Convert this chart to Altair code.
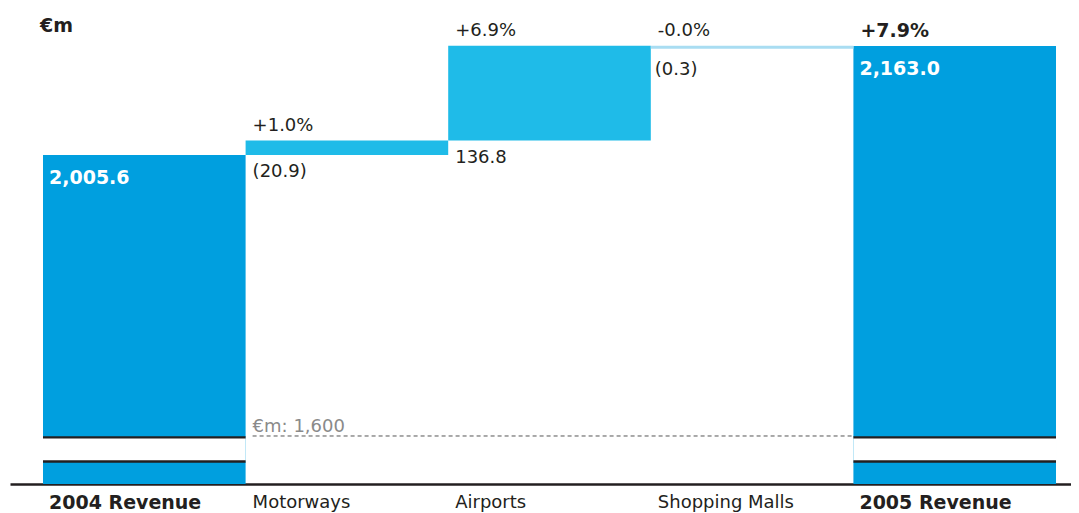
import altair as alt
import pandas as pd

# ---------------- data ----------------
categories = ["2004 Revenue", "Motorways", "Airports", "Shopping Malls", "2005 Revenue"]
changes = [2005.6, 20.9, 136.8, -0.3, 2163.0]
kinds = ["total", "increase", "increase", "decrease", "total"]
value_labels = ["2,005.6", "(20.9)", "136.8", "(0.3)", "2,163.0"]
pct_labels = ["", "+1.0%", "+6.9%", "-0.0%", "+7.9%"]

unit_label = "€m"
reference_value = 1600
reference_label = "€m: 1,600"

# broken value axis (€m)
axis_floor = 1530.7
axis_ceiling = 2215.0
break_top = 1598.1
break_bottom = 1563.2

# ---------------- build table ----------------
rows = []
cum = 0.0
for i, (c, ch, k, vl, pl) in enumerate(zip(categories, changes, kinds, value_labels, pct_labels)):
    if k == "total":
        start, end = axis_floor, ch
        cum = ch
    else:
        start, end = cum, cum + ch
        cum = end
    rows.append(dict(cat=c, i=i, i1=i + 1, start=start, end=end,
                     top=max(start, end), bottom=min(start, end),
                     kind=k, vlabel=vl, plabel=pl))
df = pd.DataFrame(rows)

DARK = "#009FDF"
CYAN = "#1FBBE8"
LIGHT = "#A9DDF2"
TXT = "#231F20"
FONT = "DejaVu Sans"
NSIZE = 18
BSIZE = 19
BW = "bold"

xs = alt.Scale(domain=[-0.1629, 5.074], nice=False, zero=False)
ys = alt.Scale(domain=[axis_floor, axis_ceiling], nice=False, zero=False)

base = alt.Chart(df)

x_enc = alt.X("i:Q", scale=xs,
              axis=alt.Axis(title=None, labels=False, ticks=False, grid=False,
                            domain=True, domainColor=TXT, domainWidth=2.6))
y_enc = alt.Y("start:Q", scale=ys, axis=None)

bars = base.transform_filter("datum.kind != 'decrease'").mark_bar().encode(
    x=x_enc, x2="i1:Q", y=y_enc, y2="end:Q",
    color=alt.Color("kind:N", scale=alt.Scale(domain=["total", "increase"], range=[DARK, CYAN]),
                    legend=None),
)

dec_line = base.transform_filter("datum.kind == 'decrease'").mark_rule(
    color=LIGHT, strokeWidth=3, yOffset=1.5
).encode(x="i:Q", x2="i1:Q", y=alt.Y("top:Q", scale=ys))

totals = base.transform_filter("datum.kind == 'total'")
gap = totals.mark_rect(color="white").encode(
    x="i:Q", x2="i1:Q",
    y=alt.datum(break_top, scale=ys), y2=alt.datum(break_bottom),
)
gap_top = totals.mark_rule(color=TXT, strokeWidth=2.3).encode(
    x="i:Q", x2="i1:Q", y=alt.datum(break_top, scale=ys))
gap_bot = totals.mark_rule(color=TXT, strokeWidth=2.3).encode(
    x="i:Q", x2="i1:Q", y=alt.datum(break_bottom, scale=ys))

ref_df = pd.DataFrame({"x": [1], "x2": [4], "v": [reference_value], "label": [reference_label]})
ref_line = alt.Chart(ref_df).mark_rule(color="#555555", strokeWidth=1, strokeDash=[4, 3], xOffset=7).encode(
    x=alt.X("x:Q", scale=xs), x2="x2:Q", y=alt.Y("v:Q", scale=ys))
ref_text = alt.Chart(ref_df).mark_text(
    align="left", baseline="alphabetic", dx=7, dy=-4, font=FONT, fontSize=NSIZE, color="#8A8A8A"
).encode(x=alt.X("x:Q", scale=xs), y=alt.Y("v:Q", scale=ys), text="label:N")

pct_normal = base.transform_filter("datum.kind != 'total'").mark_text(
    align="left", baseline="middle", dx=7, dy=-15, font=FONT, fontSize=NSIZE, color=TXT
).encode(x="i:Q", y=alt.Y("top:Q", scale=ys), text="plabel:N")
pct_bold = totals.transform_filter("datum.plabel != ''").mark_text(
    align="left", baseline="middle", dx=7, dy=-15, font=FONT, fontSize=BSIZE, fontWeight=BW, color=TXT
).encode(x="i:Q", y=alt.Y("top:Q", scale=ys), text="plabel:N")

val_inc = base.transform_filter("datum.kind == 'increase'").mark_text(
    align="left", baseline="middle", dx=7, dy=17, font=FONT, fontSize=NSIZE, color=TXT
).encode(x="i:Q", y=alt.Y("bottom:Q", scale=ys), text="vlabel:N")
val_dec = base.transform_filter("datum.kind == 'decrease'").mark_text(
    align="left", baseline="middle", dx=4, dy=24, font=FONT, fontSize=NSIZE, color=TXT
).encode(x="i:Q", y=alt.Y("top:Q", scale=ys), text="vlabel:N")
val_tot = totals.mark_text(
    align="left", baseline="middle", dx=6, dy=23, font=FONT, fontSize=BSIZE, fontWeight=BW, color="white"
).encode(x="i:Q", y=alt.Y("end:Q", scale=ys), text="vlabel:N")

cat_normal = base.transform_filter("datum.kind != 'total'").mark_text(
    align="left", baseline="middle", dx=7, dy=19, font=FONT, fontSize=NSIZE, color=TXT
).encode(x="i:Q", y=alt.datum(axis_floor, scale=ys), text="cat:N")
cat_bold = totals.mark_text(
    align="left", baseline="middle", dx=6, dy=19, font=FONT, fontSize=BSIZE, fontWeight=BW, color=TXT
).encode(x="i:Q", y=alt.datum(axis_floor, scale=ys), text="cat:N")

unit_df = pd.DataFrame({"x": [0], "v": [axis_ceiling], "label": [unit_label]})
unit_text = alt.Chart(unit_df).mark_text(
    align="left", baseline="middle", dx=-3, dy=16, font=FONT, fontSize=BSIZE, fontWeight=BW, color=TXT
).encode(x=alt.X("x:Q", scale=xs), y=alt.Y("v:Q", scale=ys), text="label:N")

chart = alt.layer(
    bars, dec_line, gap, gap_top, gap_bot, ref_line, ref_text,
    pct_normal, pct_bold, val_inc, val_dec, val_tot, cat_normal, cat_bold, unit_text
).properties(
    width=1061, height=474,
    background="white",
    autosize=alt.AutoSizeParams(type="none"),
    padding={"left": 2, "top": 2, "right": 0, "bottom": 28},
).configure_view(stroke=None)

chart.save("out.html", embed_options={"renderer": "svg", "actions": False})
